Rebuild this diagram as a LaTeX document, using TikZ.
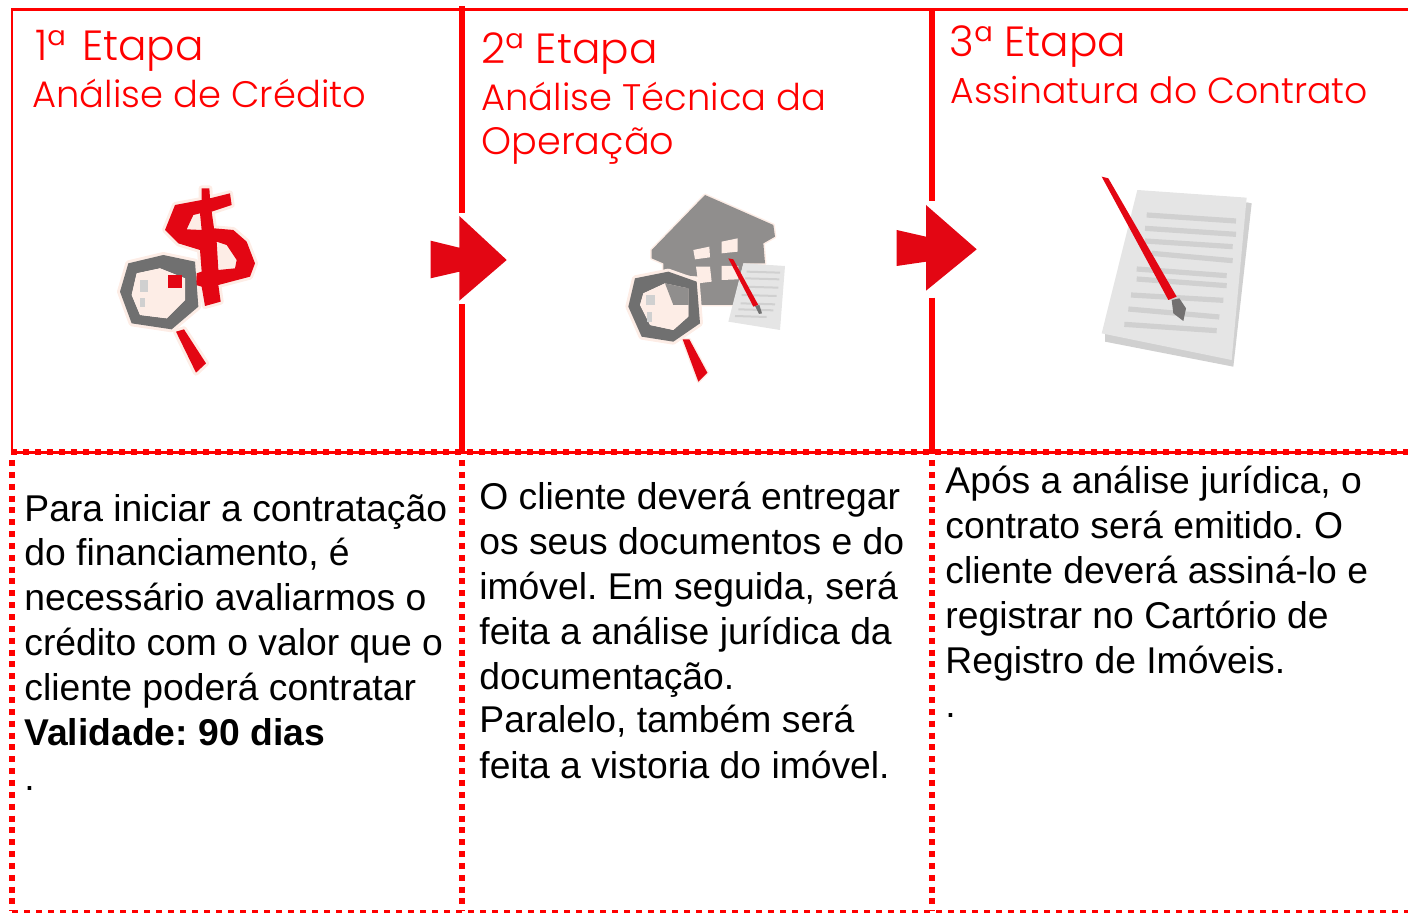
\documentclass[tikz,border=0pt]{standalone}
\usepackage{fontspec}
\setmainfont{Liberation Sans}
\newfontfamily\hd{Poppins Light}
\AtBeginDocument{\frenchspacing}
\definecolor{rd}{HTML}{FF0000}
\definecolor{ic}{HTML}{E30613}
\definecolor{halo}{HTML}{FDEDE6}
\definecolor{ringc}{HTML}{707070}
\definecolor{housec}{HTML}{908E8D}
\definecolor{pagec}{HTML}{E5E5E5}
\definecolor{linec}{HTML}{D0D0D0}
\tikzset{
 solidb/.style={draw=rd,line width=1.25pt},
 solidc/.style={draw=rd,line width=3pt},
 dotv/.style={draw=rd,line width=3pt,dash pattern=on 3pt off 2.925pt},
 doth/.style={draw=rd,line width=3pt,dash pattern=on 3pt off 3pt},
 dashb/.style={draw=rd,line width=1.2pt,dash pattern=on 3pt off 3pt},
 arrowshape/.style={fill=ic,draw=none},
 head/.style={anchor=base west,inner sep=0pt,text=rd,font=\hd\fontsize{21.1}{21.1}\selectfont},
 sub/.style={anchor=base west,inner sep=0pt,text=rd,font=\hd\fontsize{#1}{#1}\selectfont},
 sub/.default=18.45,
 body/.style={anchor=base west,inner sep=0pt,text=black,font=\fontsize{18.64}{18.64}\selectfont},
 ico/.style={x=0.16667pt,y=-0.16667pt},
 haloed/.style={draw=halo,line width=3pt,line join=round,fill=halo},
}
\begin{document}
\begin{tikzpicture}[x=0.5pt,y=-0.5pt]
\useasboundingbox (0,0) rectangle (1408,913);
% frame
\draw[solidb] (11,9.5) -- (1408,9.5);
\draw[solidb] (12,9) -- (12,452);
\draw[solidb] (12,452.3) -- (1408,452.3);
\draw[doth] (11,452) -- (1408,452);
\draw[dotv] (12,460) -- (12,911);
\draw[dotv] (462,460) -- (462,911);
\draw[dotv] (932,460) -- (932,911);
\draw[dashb] (12,911.5) -- (1408,911.5);
\draw[solidc] (462,6) -- (462,213);
\draw[solidc] (462,304) -- (462,452);
\draw[solidc] (932,9) -- (932,200.7);
\draw[solidc] (932,297.7) -- (932,452);
% arrows
\fill[arrowshape] (430.7,240.7) -- (459.3,247.7) -- (459.3,216) -- (506.7,260) -- (459.3,300.7) -- (459.3,271.7) -- (430.7,278.3) -- cycle;
\fill[arrowshape] (896.7,230) -- (926,236.7) -- (926,205) -- (976.7,249.3) -- (926,290.7) -- (926,261.7) -- (896.7,266) -- cycle;
% icon 1
\begin{scope}[shift={(90,170)},ico]
\path[haloed] (335,55) -- (358,55) -- (360,85) -- (420,70) -- (425,105) -- (365,125) -- (372,175) -- (430,180) -- (470,215) -- (495,280) -- (480,320) -- (385,345) -- (392,395) -- (345,408) -- (335,350) -- (318,345) -- (320,310) -- (335,305) -- (330,240) -- (265,220) -- (225,180) -- (255,105) -- (335,90) -- cycle;
\path[haloed] (115,280) -- (220,255) -- (315,275) -- (325,410) -- (245,478) -- (125,460) -- (90,365) -- cycle;
\path[haloed] (258,485) -- (282,478) -- (348,580) -- (318,608) -- cycle;
\fill[ic,even odd rule] (335,55) -- (358,55) -- (360,85) -- (420,70) -- (425,105) -- (365,125) -- (372,175) -- (430,180) -- (470,215) -- (495,280) -- (480,320) -- (385,345) -- (392,395) -- (345,408) -- (335,350) -- (318,345) -- (320,310) -- (335,305) -- (330,240) -- (265,220) -- (225,180) -- (255,105) -- (335,90) -- cycle
 (310,135) -- (330,130) -- (335,180) -- (290,178) -- cycle
 (380,215) -- (410,225) -- (440,270) -- (435,295) -- (385,300) -- cycle;
\fill[ringc,even odd rule] (115,280) -- (220,255) -- (315,275) -- (325,410) -- (245,478) -- (125,460) -- (90,365) -- cycle
 (140,310) -- (210,295) -- (285,325) -- (285,390) -- (230,445) -- (150,435) -- (125,375) -- cycle;
\fill[halo] (140,310) -- (210,295) -- (285,325) -- (285,390) -- (230,445) -- (150,435) -- (125,375) -- cycle;
\fill[ic] (235,315) rectangle (275,355);
\fill[linec] (150,330) rectangle (175,365);
\fill[linec] (150,385) rectangle (165,410);
\fill[ic] (258,485) -- (282,478) -- (348,580) -- (318,608) -- cycle;
\end{scope}
% icon 2
\begin{scope}[shift={(610,180)},ico]
\path[haloed,line width=1.5pt] (285,45) -- (490,135) -- (495,170) -- (460,190) -- (465,250) -- (400,250) -- (370,375) -- (270,375) -- (270,290) -- (160,280) -- (160,250) -- (125,235) -- (125,210) -- cycle;
\fill[housec] (285,45) -- (490,135) -- (495,170) -- (460,190) -- (465,250) -- (400,250) -- (370,375) -- (270,375) -- (270,290) -- (160,280) -- (160,250) -- (125,235) -- (125,210) -- cycle;
\fill[halo] (250,210) -- (298,200) -- (300,232) -- (255,238) -- cycle;
\fill[halo] (335,185) -- (383,175) -- (383,215) -- (335,220) -- cycle;
\fill[halo] (258,260) -- (300,260) -- (305,305) -- (265,310) -- cycle;
\fill[halo] (335,258) -- (385,258) -- (385,298) -- (335,300) -- cycle;
\fill[pagec] (400,250) -- (525,258) -- (510,450) -- (355,425) -- cycle;
\foreach \ya/\xa/\xb in {275/410/510,295/405/508,320/400/505,345/395/500,370/392/495,388/385/490,408/375/470}
  \draw[linec,line width=1pt] (\xa,\ya) -- (\xb,\ya+3);
\fill[ic] (355,235) -- (370,238) -- (445,375) -- (430,380) -- cycle;
\fill[ringc] (435,378) -- (448,375) -- (456,400) -- (447,402) -- cycle;
\path[haloed] (75,295) -- (175,275) -- (260,305) -- (270,430) -- (190,485) -- (95,470) -- (55,380) -- cycle;
\fill[ringc,even odd rule] (75,295) -- (175,275) -- (260,305) -- (270,430) -- (190,485) -- (95,470) -- (55,380) -- cycle
 (100,340) -- (165,310) -- (235,325) -- (235,410) -- (190,450) -- (120,435) -- (90,375) -- cycle;
\fill[halo] (100,340) -- (165,310) -- (190,375) -- (235,375) -- (235,410) -- (190,450) -- (120,435) -- (90,375) -- cycle;
\fill[housec] (165,310) -- (235,325) -- (235,375) -- (190,375) -- cycle;
\fill[linec] (108,345) rectangle (135,375);
\fill[linec] (110,395) rectangle (125,425);
\path[haloed,line width=1.5pt] (218,478) -- (238,478) -- (292,578) -- (265,605) -- cycle;
\fill[ic] (218,478) -- (238,478) -- (292,578) -- (265,605) -- cycle;
\end{scope}
% icon 3
\begin{scope}[shift={(1080,165)},ico]
\fill[linec] (500,112) -- (515,115) -- (460,605) -- (75,530) -- (75,505) -- cycle;
\fill[pagec] (172,75) -- (500,98) -- (455,585) -- (65,505) -- cycle;
\foreach \ya/\yb/\xa/\xb in {150/168/200/468,190/208/195/468,228/245/195/458,265/287/215/458,312/332/170/440,342/362/170/440,390/406/153/430,432/456/145/418,478/497/133/410}
  \draw[linec,line width=2.6pt] (\xa,\ya) -- (\xb,\yb);
\fill[ic] (65,35) -- (85,40) -- (290,395) -- (265,405) -- cycle;
\fill[housec!80!black] (275,405) -- (298,400) -- (318,430) -- (310,468) -- (280,445) -- cycle;
\end{scope}
% text
\node[head] (h1) at (35,61) {1ª\hspace{2pt} Etapa};
\node[sub] (s1) at (32,107.5) {Análise de Crédito};
\node[head] (h2) at (481,64) {2ª Etapa};
\node[sub] (s2a) at (481,110.5) {Análise Técnica da};
\node[sub=19.1] (s2b) at (481,154.5) {Operação};
\node[head] (h3) at (949,57) {3ª Etapa};
\node[sub=18.1] (s3) at (950,103.5) {Assinatura do Contrato};
\foreach \n/\t/\yy in {a/{Para iniciar a contratação}/522,b/{do financiamento, é}/566,c/{necessário avaliarmos o}/611,d/{crédito com o valor que o}/656,e/{cliente poderá contratar}/701,f/{\bfseries Validade: 90 dias}/746,g/{.}/791}
  \node[body] (ta\n) at (24,\yy) {\t};
\foreach \n/\t/\yy in {a/{O cliente deverá entregar}/510,b/{os seus documentos e do}/555,c/{imóvel. Em seguida, será}/600,d/{feita a análise jurídica da}/645,e/{documentação.}/690,f/{Paralelo, também será}/733,g/{feita a vistoria do imóvel.}/778}
  \node[body] (tb\n) at (479,\yy) {\t};
\foreach \n/\t/\yy in {a/{Após a análise jurídica, o}/494,b/{contrato será emitido. O}/539,c/{cliente deverá assiná-lo e}/584,d/{registrar no Cartório de}/629,e/{Registro de Imóveis.}/674,f/{.}/718}
  \node[body] (tc\n) at (945,\yy) {\t};
\end{tikzpicture}
\end{document}
